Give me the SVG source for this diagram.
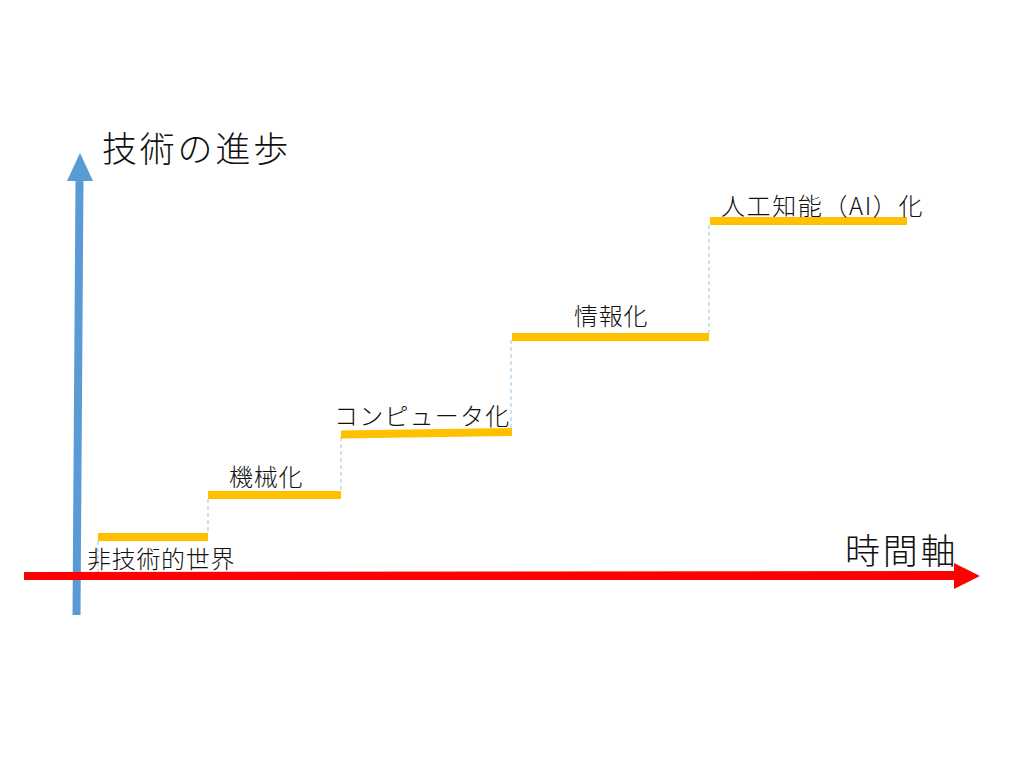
<svg xmlns="http://www.w3.org/2000/svg" width="1024" height="768" viewBox="0 0 1024 768">
<style>
.step{stroke:#FFC000;stroke-width:8;fill:none}
.dash{stroke:#9DC3E6;stroke-width:1;stroke-dasharray:4,3;fill:none}
.lbl{font-family:"Noto Sans CJK JP","Noto Sans",sans-serif;font-size:24px;font-weight:300;fill:#111;letter-spacing:0.7px}
.big{font-family:"Noto Sans CJK JP","Noto Sans",sans-serif;font-size:35px;font-weight:300;fill:#111;letter-spacing:2.8px}
</style>
<rect width="1024" height="768" fill="#fff"/>
<g id="connectors">
<line class="dash" x1="98" y1="541" x2="98" y2="576"/>
<line class="dash" x1="208" y1="499" x2="208" y2="533"/>
<line class="dash" x1="341" y1="437" x2="341" y2="491"/>
<line class="dash" x1="511" y1="340" x2="511" y2="430"/>
<line class="dash" x1="709" y1="225" x2="709" y2="333"/>
</g>
<g id="y-axis">
<polygon points="72.5,615 80.5,615 83.5,180 75.5,180" fill="#5B9BD5"/>
<polygon points="67,181 80,153 93,181" fill="#5B9BD5"/>
<text class="big" x="102" y="162">技術の進歩</text>
</g>
<g id="x-axis">
<polygon points="24,572 955,571 955,580 24,580" fill="#FF0000"/>
<polygon points="954,563 980,576 954,589" fill="#FF0000"/>
<text class="big" x="845" y="564">時間軸</text>
</g>
<g id="step1">
<line class="step" x1="98" y1="537" x2="208" y2="537"/>
<text class="lbl" x="87" y="568">非技術的世界</text>
</g>
<g id="step2">
<line class="step" x1="208" y1="495" x2="341" y2="495"/>
<text class="lbl" x="229" y="486">機械化</text>
</g>
<g id="step3">
<line class="step" x1="341" y1="434.5" x2="512" y2="432"/>
<text class="lbl" x="334" y="425" style="letter-spacing:1.2px">コンピュータ化</text>
</g>
<g id="step4">
<line class="step" x1="512" y1="337" x2="709" y2="337"/>
<text class="lbl" x="574" y="325">情報化</text>
</g>
<g id="step5">
<line class="step" x1="710" y1="221" x2="907" y2="221"/>
<text class="lbl" x="721" y="215" style="letter-spacing:1.6px">人工知能（AI）化</text>
</g>
</svg>
